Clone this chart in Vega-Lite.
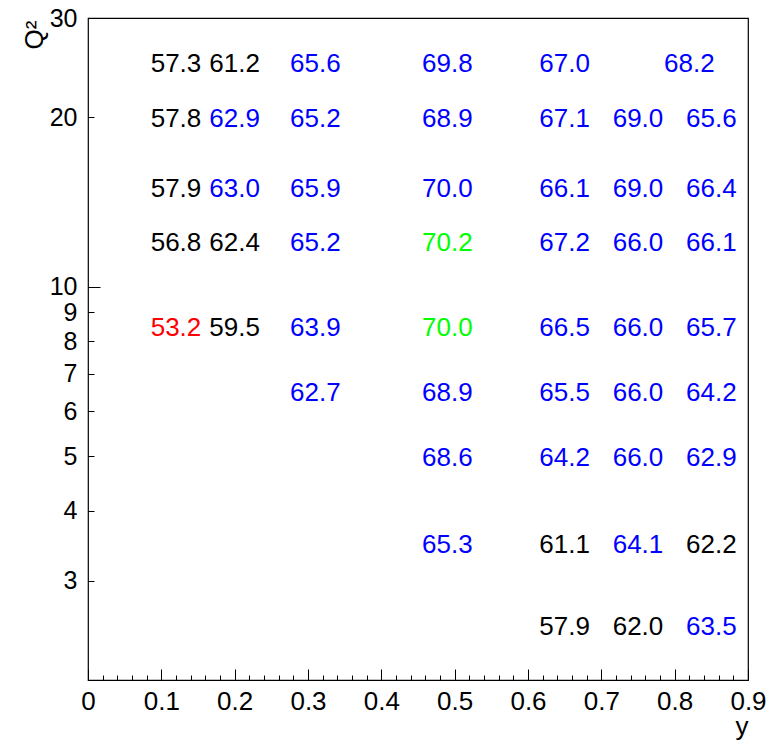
{
  "$schema": "https://vega.github.io/schema/vega-lite/v6.json",
  "autosize": {"type": "none"},
  "width": 660,
  "height": 662,
  "padding": {"left": 88, "top": 18, "right": 23, "bottom": 60},
  "background": "white",
  "config": {
    "font": "Liberation Sans",
    "view": {"stroke": "black", "strokeWidth": 1.2},
    "axis": {
      "domain": false,
      "grid": false,
      "tickColor": "black",
      "tickWidth": 1,
      "labelColor": "black",
      "labelFont": "Liberation Sans",
      "labelFontSize": 26,
      "labelFlush": false,
      "labelOverlap": false,
      "labelBound": false,
      "titleFont": "Liberation Sans",
      "titleFontSize": 26,
      "titleFontWeight": "normal",
      "titleColor": "black"
    }
  },
  "data": {
    "values": [
      {"yb": 0.12, "q2": 25, "eff": 57.3, "tier": "normal"},
      {"yb": 0.2, "q2": 25, "eff": 61.2, "tier": "normal"},
      {"yb": 0.31, "q2": 25, "eff": 65.6, "tier": "high"},
      {"yb": 0.49, "q2": 25, "eff": 69.8, "tier": "high"},
      {"yb": 0.65, "q2": 25, "eff": 67.0, "tier": "high"},
      {"yb": 0.82, "q2": 25, "eff": 68.2, "tier": "high"},

      {"yb": 0.12, "q2": 20, "eff": 57.8, "tier": "normal"},
      {"yb": 0.2, "q2": 20, "eff": 62.9, "tier": "high"},
      {"yb": 0.31, "q2": 20, "eff": 65.2, "tier": "high"},
      {"yb": 0.49, "q2": 20, "eff": 68.9, "tier": "high"},
      {"yb": 0.65, "q2": 20, "eff": 67.1, "tier": "high"},
      {"yb": 0.75, "q2": 20, "eff": 69.0, "tier": "high"},
      {"yb": 0.85, "q2": 20, "eff": 65.6, "tier": "high"},

      {"yb": 0.12, "q2": 15, "eff": 57.9, "tier": "normal"},
      {"yb": 0.2, "q2": 15, "eff": 63.0, "tier": "high"},
      {"yb": 0.31, "q2": 15, "eff": 65.9, "tier": "high"},
      {"yb": 0.49, "q2": 15, "eff": 70.0, "tier": "high"},
      {"yb": 0.65, "q2": 15, "eff": 66.1, "tier": "high"},
      {"yb": 0.75, "q2": 15, "eff": 69.0, "tier": "high"},
      {"yb": 0.85, "q2": 15, "eff": 66.4, "tier": "high"},

      {"yb": 0.12, "q2": 12, "eff": 56.8, "tier": "normal"},
      {"yb": 0.2, "q2": 12, "eff": 62.4, "tier": "normal"},
      {"yb": 0.31, "q2": 12, "eff": 65.2, "tier": "high"},
      {"yb": 0.49, "q2": 12, "eff": 70.2, "tier": "max"},
      {"yb": 0.65, "q2": 12, "eff": 67.2, "tier": "high"},
      {"yb": 0.75, "q2": 12, "eff": 66.0, "tier": "high"},
      {"yb": 0.85, "q2": 12, "eff": 66.1, "tier": "high"},

      {"yb": 0.12, "q2": 8.5, "eff": 53.2, "tier": "min"},
      {"yb": 0.2, "q2": 8.5, "eff": 59.5, "tier": "normal"},
      {"yb": 0.31, "q2": 8.5, "eff": 63.9, "tier": "high"},
      {"yb": 0.49, "q2": 8.5, "eff": 70.0, "tier": "max"},
      {"yb": 0.65, "q2": 8.5, "eff": 66.5, "tier": "high"},
      {"yb": 0.75, "q2": 8.5, "eff": 66.0, "tier": "high"},
      {"yb": 0.85, "q2": 8.5, "eff": 65.7, "tier": "high"},

      {"yb": 0.31, "q2": 6.5, "eff": 62.7, "tier": "high"},
      {"yb": 0.49, "q2": 6.5, "eff": 68.9, "tier": "high"},
      {"yb": 0.65, "q2": 6.5, "eff": 65.5, "tier": "high"},
      {"yb": 0.75, "q2": 6.5, "eff": 66.0, "tier": "high"},
      {"yb": 0.85, "q2": 6.5, "eff": 64.2, "tier": "high"},

      {"yb": 0.49, "q2": 5, "eff": 68.6, "tier": "high"},
      {"yb": 0.65, "q2": 5, "eff": 64.2, "tier": "high"},
      {"yb": 0.75, "q2": 5, "eff": 66.0, "tier": "high"},
      {"yb": 0.85, "q2": 5, "eff": 62.9, "tier": "high"},

      {"yb": 0.49, "q2": 3.5, "eff": 65.3, "tier": "high"},
      {"yb": 0.65, "q2": 3.5, "eff": 61.1, "tier": "normal"},
      {"yb": 0.75, "q2": 3.5, "eff": 64.1, "tier": "high"},
      {"yb": 0.85, "q2": 3.5, "eff": 62.2, "tier": "normal"},

      {"yb": 0.65, "q2": 2.5, "eff": 57.9, "tier": "normal"},
      {"yb": 0.75, "q2": 2.5, "eff": 62.0, "tier": "normal"},
      {"yb": 0.85, "q2": 2.5, "eff": 63.5, "tier": "high"}
    ]
  },
  "layer": [
    {
      "mark": {"type": "text", "fontSize": 26, "font": "Liberation Sans", "align": "center", "baseline": "middle", "dy": 1.5},
      "encoding": {
        "x": {
          "field": "yb", "type": "quantitative",
          "scale": {"domain": [0, 0.9], "nice": false, "zero": false},
          "axis": {
            "orient": "bottom",
            "values": [0, 0.1, 0.2, 0.3, 0.4, 0.5, 0.6, 0.7, 0.8, 0.9],
            "format": "~g",
            "tickSize": -11,
            "labelPadding": 19,
            "labelBaseline": "top",
            "title": "y",
            "titleAnchor": "end",
            "titleAlign": "right",
            "titleBaseline": "alphabetic",
            "titleX": 660,
            "titleY": 54
          }
        },
        "y": {
          "field": "q2", "type": "quantitative",
          "scale": {"type": "log", "domain": [2, 30], "nice": false},
          "axis": {
            "orient": "left",
            "values": [10],
            "format": "d",
            "labelFontSize": 25,
            "tickSize": -12,
            "labelPadding": 23,
            "title": "Q²",
            "titleAngle": -90,
            "titleAnchor": "end",
            "titleAlign": "right",
            "titleBaseline": "alphabetic",
            "titleX": -46,
            "titleY": 2
          }
        },
        "text": {"field": "eff", "type": "quantitative", "format": ".1f"},
        "color": {
          "field": "tier", "type": "nominal",
          "scale": {"domain": ["normal", "high", "max", "min"], "range": ["#000000", "#0000ff", "#00ff00", "#ff0000"]},
          "legend": null
        }
      }
    },
    {
      "mark": {"type": "point", "opacity": 0},
      "encoding": {
        "x": {
          "field": "yb", "type": "quantitative",
          "axis": {
            "orient": "bottom",
            "values": [0.02, 0.04, 0.06, 0.08, 0.12, 0.14, 0.16, 0.18, 0.22, 0.24, 0.26, 0.28, 0.32, 0.34, 0.36, 0.38, 0.42, 0.44, 0.46, 0.48, 0.52, 0.54, 0.56, 0.58, 0.62, 0.64, 0.66, 0.68, 0.72, 0.74, 0.76, 0.78, 0.82, 0.84, 0.86, 0.88],
            "labels": false,
            "tickSize": -5,
            "title": null
          }
        },
        "y": {
          "field": "q2", "type": "quantitative",
          "axis": {
            "orient": "left",
            "values": [3, 4, 5, 6, 7, 8, 9, 20, 30],
            "format": "d",
            "labelFontSize": 25,
            "tickSize": -6,
            "labelPadding": 17,
            "title": null
          }
        }
      }
    }
  ],
  "resolve": {"axis": {"x": "independent", "y": "independent"}}
}
